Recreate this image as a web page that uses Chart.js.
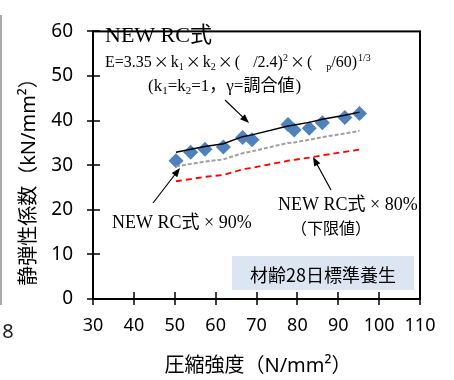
<!DOCTYPE html>
<html>
<head>
<meta charset="utf-8">
<script src="https://cdn.jsdelivr.net/npm/chart.js@4"></script>
<style>
  html, body { margin: 0; padding: 0; background: #fff; }
</style>
</head>
<body>
<canvas id="chart" width="454" height="380"></canvas>
<script>
// measured points (compressive strength vs. static modulus)
const strengthFc = [50.3, 53.9, 57.4, 61.9, 66.6, 68.9, 77.7, 79.2, 82.9, 86.1, 91.6, 95.2];
const measuredE = [31.0, 32.9, 33.6, 34.1, 36.2, 35.7, 39.1, 37.9, 38.3, 39.5, 40.7, 41.6];

// NEW RC formula curves
const lineFc = [50.3, 53.9, 57.4, 61.9, 66.6, 68.9, 77.7, 79.2, 82.9, 86.1, 91.6, 95.2];
const newRcE = [32.9, 33.6, 34.2, 34.8, 36.4, 36.8, 38.8, 39.0, 39.6, 40.3, 41.2, 41.9];
const newRc90 = [29.7, 30.3, 30.8, 31.3, 32.7, 33.1, 35.0, 35.1, 35.7, 36.3, 37.1, 37.7];
const newRc80 = [26.4, 26.9, 27.4, 27.8, 29.1, 29.4, 31.0, 31.2, 31.7, 32.2, 33.0, 33.5];

const xTicks = [30, 40, 50, 60, 70, 80, 90, 100, 110];
const yTicks = [0, 10, 20, 30, 40, 50, 60];

const SERIF = "'Liberation Serif', 'Noto Sans CJK JP'";
const SANS = "'Noto Sans', 'Noto Sans CJK JP'";
const CJK = "'Noto Sans CJK JP'";

const pts = (xs, ys) => xs.map((x, i) => ({ x: x, y: ys[i] }));

function drawRuns(ctx, x, y, runs) {
  runs.forEach(([t, font, dy, gap]) => {
    ctx.font = font;
    ctx.fillText(t, x, y + (dy || 0));
    x += ctx.measureText(t).width + (gap || 0);
  });
}

function arrow(ctx, x1, y1, x2, y2) {
  const a = Math.atan2(y2 - y1, x2 - x1);
  ctx.beginPath();
  ctx.moveTo(x1, y1);
  ctx.lineTo(x2 - 6 * Math.cos(a), y2 - 6 * Math.sin(a));
  ctx.stroke();
  ctx.beginPath();
  ctx.moveTo(x2, y2);
  ctx.lineTo(x2 - 9 * Math.cos(a) + 3.5 * Math.sin(a), y2 - 9 * Math.sin(a) - 3.5 * Math.cos(a));
  ctx.lineTo(x2 - 9 * Math.cos(a) - 3.5 * Math.sin(a), y2 - 9 * Math.sin(a) + 3.5 * Math.cos(a));
  ctx.closePath();
  ctx.fill();
}

const extras = {
  id: 'extras',
  beforeDatasetsDraw(chart) {
    const ctx = chart.ctx;
    ctx.save();
    // age label box
    ctx.fillStyle = '#dce6f2';
    ctx.fillRect(232, 256, 182, 34);
    ctx.restore();
  },
  afterDraw(chart) {
    const ctx = chart.ctx;
    const a = chart.chartArea;
    const xs = chart.scales.x, ys = chart.scales.y;
    ctx.save();
    // frame
    ctx.strokeStyle = '#000';
    ctx.lineWidth = 2;
    ctx.strokeRect(a.left, a.top, a.right - a.left, a.bottom - a.top);
    // cross ticks
    ctx.beginPath();
    xTicks.forEach(v => {
      const px = Math.round(xs.getPixelForValue(v));
      ctx.moveTo(px, a.bottom - 7);
      ctx.lineTo(px, a.bottom + 6);
    });
    yTicks.forEach(v => {
      const py = Math.round(ys.getPixelForValue(v));
      ctx.moveTo(a.left - 6, py);
      ctx.lineTo(a.left + 7, py);
    });
    ctx.lineWidth = 1.5;
    ctx.stroke();

    // axis titles
    ctx.fillStyle = '#000';
    ctx.textAlign = 'center';
    ctx.textBaseline = 'middle';
    ctx.font = '20px ' + SANS;
    ctx.fillText('圧縮強度（N/mm²）', 258, 366);
    ctx.save();
    ctx.translate(29, 177);
    ctx.rotate(-Math.PI / 2);
    ctx.fillText('静弾性係数（kN/mm²）', 0, 0);
    ctx.restore();

    // stray crop remnants at the left edge
    ctx.strokeStyle = '#aaa';
    ctx.lineWidth = 2;
    ctx.beginPath();
    ctx.moveTo(1, 15);
    ctx.lineTo(1, 305);
    ctx.stroke();
    ctx.font = '20px ' + SANS;
    ctx.fillStyle = '#222';
    ctx.fillText('8', 8, 332);

    // annotations
    ctx.fillStyle = '#000';
    ctx.textAlign = 'left';
    ctx.textBaseline = 'alphabetic';
    ctx.font = '22px ' + SERIF;
    ctx.fillText('NEW RC式', 105, 42);

    const m = '16px ' + SERIF, s = '10px ' + SERIF, xm = '15px ' + CJK;
    drawRuns(ctx, 105, 67, [
      ['E=3.35', m, 0, 2], ['×', xm, 0, 2], ['k', m], ['1', s, 3, 2],
      ['×', xm, 0, 2], ['k', m], ['2', s, 3, 2], ['×', xm, 0, 2],
      ['(', m, 0, 13], ['/2.4)', m], ['2', s, -6, 2], ['×', xm, 0, 2],
      ['(', m, 0, 14], ['p', s, 3], ['/60)', m, 0, 1], ['1/3', s, -6]
    ]);
    const m2 = '17px ' + SERIF, s2 = '11px ' + SERIF;
    drawRuns(ctx, 148, 91, [
      ['(k', m2], ['1', s2, 3], ['=k', m2], ['2', s2, 3], ['=1，γ=', m2],
      ['調合値', '17px ' + CJK, 0, 1], [')', m2]
    ]);

    ctx.font = '18px ' + SERIF;
    ctx.fillText('NEW RC式 × 90%', 112, 228);
    ctx.fillText('NEW RC式 × 80%', 278, 210);
    ctx.font = '16px ' + CJK;
    ctx.fillText('（下限値）', 291, 234);

    ctx.font = '18px ' + CJK;
    ctx.textAlign = 'center';
    ctx.textBaseline = 'middle';
    ctx.fillText('材齢28日標準養生', 323, 275);

    // leader arrows
    ctx.strokeStyle = '#000';
    ctx.fillStyle = '#000';
    ctx.lineWidth = 1.2;
    arrow(ctx, 225, 100, 249, 123);
    arrow(ctx, 153, 203, 180, 168);
    arrow(ctx, 331, 190, 313, 157);
    ctx.restore();
  }
};

new Chart(document.getElementById('chart'), {
  type: 'scatter',
  data: {
    datasets: [
      {
        label: 'NEW RC式',
        data: pts(lineFc, newRcE),
        showLine: true,
        borderColor: '#000',
        borderWidth: 1.5,
        pointRadius: 0,
        order: 0
      },
      {
        label: 'NEW RC式×90%',
        data: pts(lineFc, newRc90),
        showLine: true,
        borderColor: '#a0a0a0',
        borderDash: [4, 2],
        borderWidth: 2,
        pointRadius: 0,
        order: 1
      },
      {
        label: 'NEW RC式×80%',
        data: pts(lineFc, newRc80),
        showLine: true,
        borderColor: '#ff0000',
        borderDash: [6, 4],
        borderWidth: 1.8,
        pointRadius: 0,
        order: 2
      },
      {
        label: '実測値',
        data: pts(strengthFc, measuredE),
        pointStyle: 'rectRot',
        pointRadius: 7.5,
        backgroundColor: '#4f81bd',
        borderWidth: 0,
        order: 3
      }
    ]
  },
  options: {
    responsive: false,
    animation: false,
    devicePixelRatio: 1,
    layout: { padding: { left: 0, right: 34, top: 17, bottom: 0 } },
    plugins: { legend: { display: false }, tooltip: { enabled: false } },
    scales: {
      x: {
        type: 'linear', min: 30, max: 110,
        afterBuildTicks: s => { s.ticks = xTicks.map(v => ({ value: v })); },
        afterFit: s => { s.height = 81; },
        grid: { display: false, drawTicks: false },
        border: { display: false },
        ticks: { color: '#000', padding: 16, font: { family: SANS, size: 18 } }
      },
      y: {
        type: 'linear', min: 0, max: 60,
        afterBuildTicks: s => { s.ticks = yTicks.map(v => ({ value: v })); },
        afterFit: s => { s.width = 93; },
        grid: { display: false, drawTicks: false },
        border: { display: false },
        ticks: { color: '#000', padding: 20, font: { family: SANS, size: 19 } }
      }
    }
  },
  plugins: [extras]
});
</script>
</body>
</html>
